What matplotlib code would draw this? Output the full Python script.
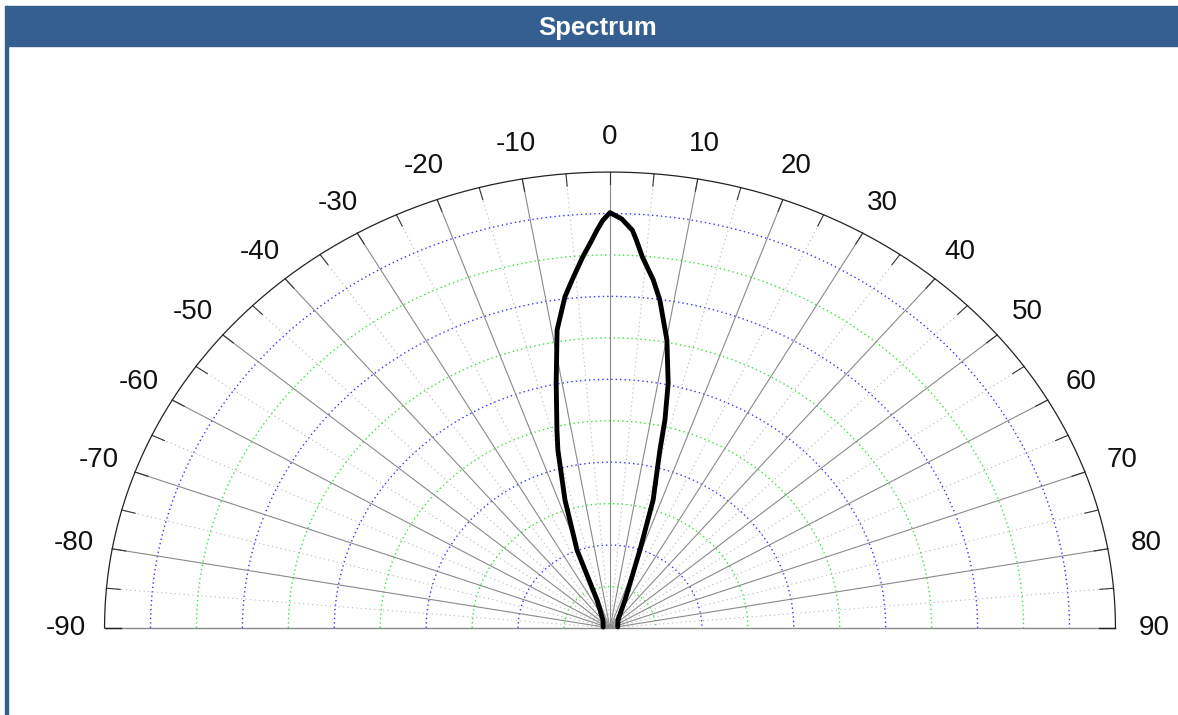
import numpy as np
import matplotlib.pyplot as plt
from matplotlib.patches import Rectangle

plt.rcParams['font.family'] = ['Liberation Sans', 'DejaVu Sans']

# lobe: angle (deg, 0 = up) and radius (ring units)
angles = [-81, -38, -22.7, -20.9, -17.6, -14.8, -13.6, -11.2, -9.8, -9.1, -7.0,
          -5.6, -3.8, -2.4, -1.7, -0.9, 0, 1.5, 2.9, 3.5, 4.5, 6.4, 7.8, 10.1, 12.1,
          13.4, 14.2, 16.9, 19.1, 25.8, 42, 81]
radius = [0.15, 0.25, 0.73, 2.01, 3.24, 4.44, 4.91, 6.03, 6.81, 7.28, 8.05,
          8.44, 8.97, 9.37, 9.60, 9.84, 10.02, 9.87, 9.61, 9.38, 8.98, 8.45, 7.99, 7.06, 6.04,
          5.16, 4.43, 3.23, 1.99, 0.75, 0.26, 0.17]

ring_values = [1, 2, 3, 4, 5, 6, 7, 8, 9, 10]
r_max = 11
tick_angles = [-90, -80, -70, -60, -50, -40, -30, -20, -10, 0, 10, 20, 30, 40, 50, 60, 70, 80, 90]
tick_labels = [str(a) for a in tick_angles]

title = 'Spectrum'
head_col = '#365f91'


def to_xy(th, r):
    t = np.radians(th)
    return r * np.sin(t), r * np.cos(t)


W, H = 1178, 715
fig = plt.figure(figsize=(W / 100, H / 100), dpi=100)

# plot area: centre at pixel (610, 628), 45.95 px/unit across, 41.45 px/unit up
sx, sy = 45.95, 41.45
cx, cy = 610, 628
px_l, px_r, px_t, px_b = 10, 1170, 50, 700
ax = fig.add_axes([px_l / W, (H - px_b) / H, (px_r - px_l) / W, (px_b - px_t) / H])
ax.set_xlim((px_l - cx) / sx, (px_r - cx) / sx)
ax.set_ylim(-(px_b - cy) / sy, (cy - px_t) / sy)
ax.axis('off')

full = np.linspace(-90, 90, 361)

# rings
for rv in ring_values:
    x, y = to_xy(full, rv)
    col = '#0000ff' if rv % 2 == 0 else '#00e000'
    ax.plot(x, y, color=col, lw=1.0, ls=(0, (1, 2.2)), alpha=0.8)

# spokes
for a in range(-85, 90, 5):
    x, y = to_xy(np.array([a, a]), np.array([0, r_max]))
    if a % 10 == 0:
        ax.plot(x, y, color='#8a8a8a', lw=0.8)
    else:
        ax.plot(x, y, color='#b8b8b8', lw=0.8, ls=(0, (1, 3)))
    # small tick on the outer arc
    x, y = to_xy(np.array([a, a]), np.array([r_max - 0.3, r_max]))
    ax.plot(x, y, color='#333333', lw=0.8)

# baseline and outer arc
ax.plot([-r_max, r_max], [0, 0], color='#8a8a8a', lw=1.0)
ax.plot([-r_max, -r_max + 0.35], [0, 0], color='#222222', lw=1.0)
ax.plot([r_max - 0.35, r_max], [0, 0], color='#222222', lw=1.0)
x, y = to_xy(full, r_max)
ax.plot(x, y, color='#222222', lw=0.9)

# angle labels
for a, lab in zip(tick_angles, tick_labels):
    x, y = to_xy(a, 11.85)
    ax.text(x, y, lab, ha='center', va='center', fontsize=20, color='#111111')

# lobe
x, y = to_xy(np.array(angles), np.array(radius))
ax.plot(x, y, color='black', lw=3.5, solid_joinstyle='round', solid_capstyle='round')

# header bar and left border
fig.patches.append(Rectangle((6 / W, (H - 46) / H), (W - 6) / W, 40 / H,
                             transform=fig.transFigure, color=head_col, zorder=0))
fig.patches.append(Rectangle((5 / W, 0), 3 / W, (H - 6) / H,
                             transform=fig.transFigure, color=head_col, zorder=0))
fig.text(598 / W, (H - 28) / H, title, ha='center', va='center',
         fontsize=18.5, fontweight='bold', color='white')

fig.savefig('out.png', dpi=100)
